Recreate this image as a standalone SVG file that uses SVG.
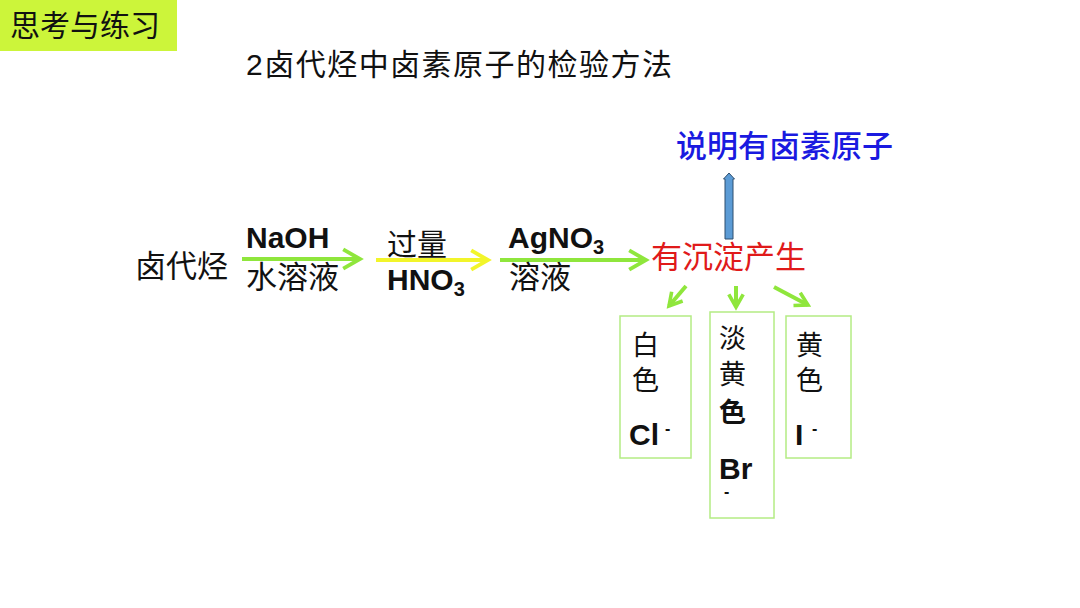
<svg xmlns="http://www.w3.org/2000/svg" width="1080" height="608" viewBox="0 0 1080 608">
<defs>
<style>
.cn{font-family:"Liberation Sans","Noto Sans CJK SC",sans-serif;fill:#111}
.b{font-family:"Liberation Sans","Noto Sans CJK SC",sans-serif;font-weight:bold;fill:#111}
.box{fill:none;stroke:#b4ec84;stroke-width:1.5}
</style>
<marker id="ahg" viewBox="0 0 10 10" refX="8" refY="5" markerWidth="6" markerHeight="6" orient="auto" markerUnits="strokeWidth">
<path d="M1,1 L8,5 L1,9" fill="none" stroke="#8fe63c" stroke-width="1.6"/>
</marker>
<marker id="ahy" viewBox="0 0 10 10" refX="8" refY="5" markerWidth="6" markerHeight="6" orient="auto" markerUnits="strokeWidth">
<path d="M1,1 L8,5 L1,9" fill="none" stroke="#f2f52a" stroke-width="1.6"/>
</marker>
<marker id="ahs" viewBox="0 0 10 10" refX="8" refY="5" markerWidth="4.5" markerHeight="4.5" orient="auto" markerUnits="strokeWidth">
<path d="M1,1 L8,5 L1,9" fill="none" stroke="#8fe63c" stroke-width="2"/>
</marker>
</defs>
<rect width="1080" height="608" fill="#fff"/>
<g id="header">
<rect x="0" y="0" width="177" height="51" fill="#ccf53a"/>
<text class="cn" x="10" y="36" font-size="30">思考与练习</text>
</g>
<g id="title">
<text class="cn" x="246" y="75" font-size="30" textLength="426" lengthAdjust="spacing">2卤代烃中卤素原子的检验方法</text>
</g>
<g id="connectors">
<line x1="242" y1="259" x2="360" y2="259" stroke="#8fe63c" stroke-width="4" marker-end="url(#ahg)"/>
<line x1="376" y1="260" x2="488" y2="260" stroke="#f2f52a" stroke-width="4" marker-end="url(#ahy)"/>
<line x1="500" y1="260" x2="646" y2="260" stroke="#8fe63c" stroke-width="4" marker-end="url(#ahg)"/>
<line x1="686" y1="286" x2="669" y2="306" stroke="#8fe63c" stroke-width="4" marker-end="url(#ahs)"/>
<line x1="736" y1="286" x2="736" y2="307" stroke="#8fe63c" stroke-width="4" marker-end="url(#ahs)"/>
<line x1="774" y1="287" x2="808" y2="305" stroke="#8fe63c" stroke-width="4" marker-end="url(#ahs)"/>
<path d="M725,239 L725,179 L723.5,179 L729,173 L734.5,179 L733,179 L733,239 Z" fill="#5b9bd5" stroke="#2f4f6f" stroke-width="1"/>
</g>
<g id="haloalkane">
<text class="cn" x="135" y="277" font-size="31">卤代烃</text>
</g>
<g id="step1">
<text class="b" x="246" y="248" font-size="30">NaOH</text>
<text class="cn" x="246" y="288" font-size="31">水溶液</text>
</g>
<g id="step2">
<text class="cn" x="387" y="255" font-size="30">过量</text>
<text class="b" x="387" y="290" font-size="30">HNO<tspan font-size="20" dy="6">3</tspan></text>
</g>
<g id="step3">
<text class="b" x="508" y="248" font-size="30">AgNO<tspan font-size="20" dy="6">3</tspan></text>
<text class="cn" x="509" y="288" font-size="31">溶液</text>
</g>
<g id="precipitate">
<text x="651" y="268" font-size="31" style="font-family:'Liberation Sans','Noto Sans CJK SC',sans-serif;fill:#e01a1a">有沉淀产生</text>
</g>
<g id="conclusion">
<text x="676" y="157" font-size="31" font-weight="500" style="font-family:'Liberation Sans','Noto Sans CJK SC',sans-serif;fill:#1a1ae0">说明有卤素原子</text>
</g>
<g id="box-cl">
<rect class="box" x="620" y="316" width="71" height="142"/>
<text class="cn" x="632" y="355" font-size="27">白</text>
<text class="cn" x="632" y="390" font-size="27">色</text>
<text class="b" x="629" y="445" font-size="30">Cl</text>
<text class="b" x="665" y="434" font-size="16">-</text>
</g>
<g id="box-br">
<rect class="box" x="710" y="312" width="64" height="206"/>
<text class="cn" x="719" y="348" font-size="27">淡</text>
<text class="cn" x="719" y="384" font-size="27">黄</text>
<text class="b" x="719" y="422" font-size="27">色</text>
<text class="b" x="719" y="479" font-size="30">Br</text>
<text class="b" x="724" y="497" font-size="16">-</text>
</g>
<g id="box-i">
<rect class="box" x="786" y="316" width="65" height="142"/>
<text class="cn" x="796" y="355" font-size="27">黄</text>
<text class="cn" x="796" y="390" font-size="27">色</text>
<text class="b" x="795" y="445" font-size="30">I</text>
<text class="b" x="812" y="434" font-size="16">-</text>
</g>
</svg>
